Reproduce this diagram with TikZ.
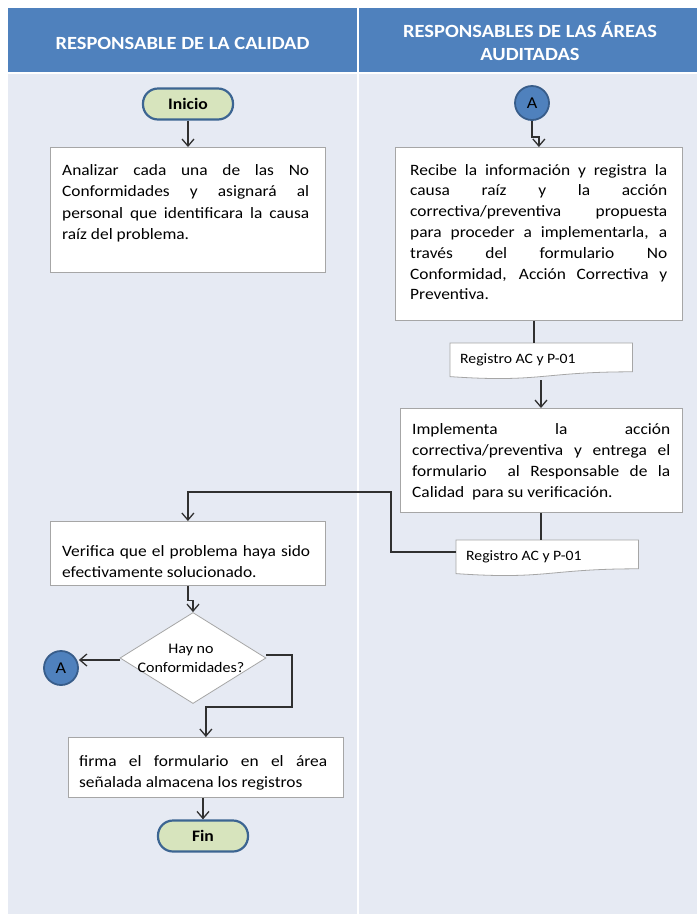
\documentclass[tikz,border=0pt]{standalone}
\usepackage{fontspec}
\setmainfont{Carlito}[FakeStretch=1.1]
\usetikzlibrary{arrows.meta,shapes.geometric}

\definecolor{hdrblue}{HTML}{4F81BD}
\definecolor{lanebg}{HTML}{E6EAF3}
\definecolor{termfill}{HTML}{D7E4BD}
\definecolor{termedge}{HTML}{3C6592}
\definecolor{circedge}{HTML}{385D8A}
\definecolor{boxedge}{HTML}{A6A6A6}
\definecolor{linecol}{HTML}{303030}

\tikzset{
  term/.style={draw=termedge, line width=2.2pt, fill=termfill, rounded corners=15pt,
    minimum width=90pt, minimum height=31pt, inner sep=0pt,
    font=\fontsize{16}{18}\selectfont\bfseries},
  conn/.style={circle, draw=circedge, line width=1.8pt, fill=hdrblue,
    minimum size=34pt, inner sep=0pt, font=\fontsize{16.5}{18}\selectfont},
  procbox/.style={draw=boxedge, line width=0.8pt, fill=white, inner sep=0pt, anchor=north west},
  boxtext/.style={inner sep=0pt, anchor=base west, align=justify,
    font=\fontsize{15.8}{21.5}\selectfont},
  docbox/.style={inner sep=0pt, minimum width=182pt, minimum height=36pt, anchor=north west},
  doctext/.style={inner sep=0pt, anchor=base west, font=\fontsize{14.3}{16}\selectfont},
  docline/.style={draw=boxedge, line width=0.8pt, fill=white},
  decision/.style={diamond, draw=boxedge, line width=0.8pt, fill=white,
    minimum width=146pt, minimum height=91pt, inner sep=0pt},
  hdr/.style={text=white, align=center, font=\fontsize{18.6}{23}\selectfont\bfseries},
  ln/.style={draw=linecol, line width=1.3pt},
  arr/.style={ln, -{Straight Barb[length=7pt,width=12pt,line width=1.3pt]}},
}

% document symbol: straight top, wavy lower edge (right end higher than left)
\newcommand{\docoutline}[1]{%
  \path[docline] (#1.north west) -- (#1.north east)
    -- ([yshift=-28.8pt]#1.north east)
    .. controls ([xshift=-91pt,yshift=-28.8pt]#1.north east)
            and ([xshift=91pt,yshift=-39.9pt]#1.north west)
    .. ([yshift=-33.6pt]#1.north west) -- cycle;}

\begin{document}
\begin{tikzpicture}[x=1pt,y=-1pt]
\hyphenpenalty=10000 \tolerance=10000 \hbadness=10000 \hfuzz=20pt

\useasboundingbox (0,0) rectangle (697,914);
\fill[white] (0,0) rectangle (697,914);

% swimlane headers and lanes
\fill[hdrblue] (8,8) rectangle (697,72);
\fill[lanebg] (8,74) rectangle (697,914);
\fill[white] (357,8) rectangle (359,914);
\node[hdr] (h1) at (182.5,43) {RESPONSABLE DE LA CALIDAD};
\node[hdr] (h2) at (530,41) {RESPONSABLES DE LAS ÁREAS\\AUDITADAS};

% left lane: start
\node[term] (inicio) at (188,104) {Inicio};
\node[procbox, minimum width=275pt, minimum height=125pt] (b1) at (50,147) {};
\node[boxtext, text width=247pt] (t1) at (62,175)
  {Analizar cada una de las No\linebreak Conformidades y asignará al\linebreak
   personal que identificara la causa\linebreak raíz del problema.};

% right lane
\node[conn] (a1) at (532,103) {A};
\node[procbox, minimum width=287pt, minimum height=173pt] (b2) at (395,147) {};
\node[boxtext, text width=257pt, font=\fontsize{15.8}{20.8}\selectfont] (t2) at (410,175)
  {Recibe la información y registra la\linebreak causa raíz y la acción\linebreak
   correctiva/preventiva propuesta\linebreak para proceder a implementarla, a\linebreak
   través del formulario No\linebreak Conformidad, Acción Correctiva y\linebreak Preventiva.};

\node[docbox] (d1) at (450,343) {};
\node[procbox, minimum width=282pt, minimum height=104pt] (b3) at (400,408) {};
\node[boxtext, text width=258pt, font=\fontsize{15.8}{21}\selectfont] (t3) at (412,434)
  {Implementa la acción\linebreak correctiva/preventiva y entrega el\linebreak
   formulario \ al Responsable de la\linebreak \mbox{Calidad\ \ para su verificación.}};
\node[docbox] (d2) at (456,540) {};

% left lane: verification and decision
\node[procbox, minimum width=275pt, minimum height=64pt] (b4) at (50,521) {};
\node[boxtext, text width=248pt] (t4) at (62,556)
  {Verifica que el problema haya sido\linebreak \mbox{efectivamente solucionado.}};
\node[decision] (dia) at (193,658) {};
\node[align=center, font=\fontsize{14.6}{19}\selectfont] (tdia) at (191,658) {Hay no\\Conformidades?};
\node[conn] (a2) at (61,668) {A};
\node[procbox, minimum width=275pt, minimum height=60pt] (b5) at (68,737) {};
\node[boxtext, text width=248pt] (t5) at (79,766)
  {firma el formulario en el área\linebreak \mbox{señalada almacena los registros}};
\node[term] (fin) at (203,836) {Fin};

% document outlines with their labels
\docoutline{d1}
\node[doctext] (l1) at ([xshift=10pt,yshift=-20pt]d1.north west) {Registro AC y P-01};
\docoutline{d2}
\node[doctext] (l2) at ([xshift=10pt,yshift=-20pt]d2.north west) {Registro AC y P-01};

% waypoints
\coordinate (bendup) at (391,492);
\coordinate (loopr) at (292,707);

% connectors
\draw[arr] (inicio.south) -- (inicio.south |- b1.north);
\draw[arr] (a1.south) -- ++(0,16) -| (b2.north);
\draw[ln] ([xshift=84pt]d1.north west |- b2.south) -- ([xshift=84pt]d1.north west);
\draw[arr] ([xshift=91pt,yshift=-37pt]d1.north west) -- ([xshift=91pt]d1.north west |- b3.north);
\draw[ln] ([xshift=85pt]d2.north west |- b3.south) -- ([xshift=85pt]d2.north west);
\draw[arr] ([yshift=-12pt]d2.north west) -| (bendup) -| (b4.north);
\draw[arr] (b4.south) -- ++(0,15) -| (dia.north);
\draw[arr] (dia.west |- 0,660) -- (a2.east |- 0,660);
\draw[arr] (dia.east |- 0,655) -| (loopr) -| (b5.north);
\draw[arr] (b5.south -| fin.north) -- (fin.north);
\end{tikzpicture}
\end{document}
